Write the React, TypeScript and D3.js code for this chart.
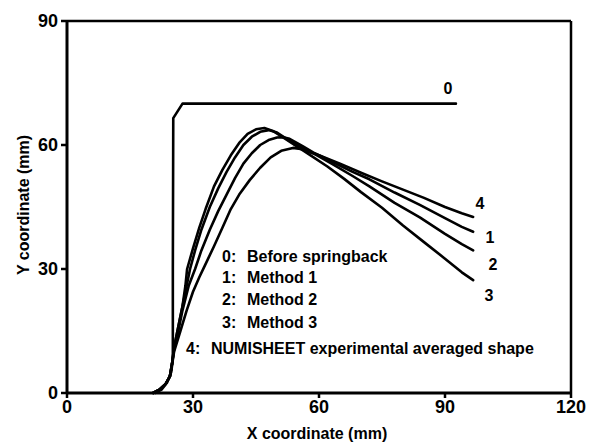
import React from 'react';
import * as d3 from 'd3';

// curve 0: shape before springback
const before: [number, number][] = [
  [21, 0], [22.5, 0.8], [23.8, 2.5], [24.8, 5], [25.2, 8], [25.2, 30], [25.3, 66.5], [27.5, 70], [92.6, 70],
];

const method1: [number, number][] = [
  [20.5, 0], [22, 0.8], [23.5, 2.2], [24.5, 4], [25, 7], [25.5, 10.5], [26.5, 15], [27.5, 20], [29, 26],
  [30.5, 30], [32, 34.5], [34, 39.5], [36, 44], [38, 48], [40, 52], [42, 55.5], [44, 58], [46, 60],
  [48, 61.2], [50, 61.8], [51.5, 61.9], [53, 61.5], [56, 59.8], [59, 58], [63, 56], [68, 53.5],
  [72, 51.7], [78, 48.5], [84, 45.5], [90, 42.3], [94, 40.2], [96.7, 39],
];

const method2: [number, number][] = [
  [20.5, 0], [22, 0.8], [23.5, 2.2], [24.5, 4], [25, 7], [25.5, 11], [26.5, 16], [27.5, 21], [28.5, 26],
  [29.3, 30], [30.5, 34.5], [32, 39.5], [34, 45], [36, 49.5], [38, 53.5], [40, 57], [42, 60], [44, 62],
  [46, 63.2], [48, 63.6], [50, 63], [53, 61], [56, 59.3], [59, 57.8], [63, 55.5], [68, 52.5], [72, 50],
  [78, 46], [84, 42.5], [90, 38.5], [94, 36], [96.7, 34.5],
];

const method3: [number, number][] = [
  [20.5, 0], [22, 0.8], [23.5, 2.2], [24.5, 4], [25, 7], [25.5, 11], [26.5, 16], [27.5, 21], [28.2, 26],
  [28.6, 30], [30, 35], [31.5, 40], [33, 44.5], [35, 50], [37, 54], [39, 57.5], [41, 60.5], [43, 62.7],
  [45, 63.8], [47, 64.1], [49, 63.4], [52, 61.5], [55, 59.5], [58, 57.5], [62, 54.8], [66, 51.8],
  [70, 48.6], [75, 44.8], [80, 40.5], [85, 36.5], [90, 32.5], [94, 29.2], [96.7, 27.3],
];

// curve 4: NUMISHEET experimental averaged shape
const experimental: [number, number][] = [
  [20.5, 0], [22, 0.8], [23.5, 2.2], [24.5, 4], [25, 7], [25.5, 10], [27, 15], [28.5, 20], [30, 24.5],
  [31.5, 28], [32.9, 31], [35, 35.5], [37, 40], [39, 44.5], [41, 48], [43.5, 51.5], [46, 54.5],
  [48.5, 57], [51, 58.6], [53.8, 59.3], [56, 59], [58, 58.2], [60, 57.5], [65, 55.5], [70, 53.3],
  [75, 51.2], [80, 49.2], [85, 47.2], [90, 45], [94, 43.5], [96.7, 42.6],
];

const series = [before, method1, method2, method3, experimental];
const endLabels = ['0', '1', '2', '3', '4'];

const legendNums = ['0:', '1:', '2:', '3:', '4:'];
const legendTexts = ['Before springback', 'Method 1', 'Method 2', 'Method 3', 'NUMISHEET experimental averaged shape'];

const xTicks = [0, 30, 60, 90, 120];
const yTicks = [0, 30, 60, 90];

const W = 596;
const H = 444;
const m = { left: 67, right: 25, top: 21, bottom: 51 };

export default function App() {
  const x = d3.scaleLinear().domain([0, 120]).range([m.left, W - m.right]);
  const y = d3.scaleLinear().domain([0, 90]).range([H - m.bottom, m.top]);
  const line = d3.line<[number, number]>().x(d => x(d[0])).y(d => y(d[1]));

  const font = 'Liberation Sans, Arial, Helvetica, sans-serif';
  const labelPos = [
    [448, 94], [490, 243], [493, 270], [489, 301], [480, 209],
  ];
  const legendY = [262, 283, 305, 328, 354];
  const legendX = [222, 222, 222, 222, 186];

  return (
    <svg width={W} height={H} style={{ position: 'absolute', left: 0, top: 0, background: '#fff' }}
      fontFamily={font} fontWeight="bold">
      {/* frame */}
      <line x1={x(0)} x2={x(120)} y1={y(90)} y2={y(90)} stroke="#000" strokeWidth={2.5} />
      <line x1={x(120)} x2={x(120)} y1={y(90)} y2={y(0)} stroke="#000" strokeWidth={2.5} />
      <line x1={x(0)} x2={x(120)} y1={y(0)} y2={y(0)} stroke="#000" strokeWidth={3} />
      <line x1={x(0)} x2={x(0)} y1={y(90)} y2={y(0)} stroke="#000" strokeWidth={3} />

      {xTicks.map(t => (
        <g key={'x' + t}>
          <line x1={x(t)} x2={x(t)} y1={y(0)} y2={y(0) + 5} stroke="#000" strokeWidth={2.5} />
          <text x={x(t)} y={y(0) + 20} fontSize={18} textAnchor="middle">{t}</text>
        </g>
      ))}
      {yTicks.map(t => (
        <g key={'y' + t}>
          <line x1={x(0) - 6} x2={x(0)} y1={y(t)} y2={y(t)} stroke="#000" strokeWidth={2.5} />
          <text x={x(0) - 9} y={y(t) + 6} fontSize={18} textAnchor="end">{t}</text>
        </g>
      ))}

      <text x={317} y={439} fontSize={16} textAnchor="middle">X coordinate (mm)</text>
      <text transform="translate(29,205) rotate(-90)" fontSize={16} textAnchor="middle">Y coordinate (mm)</text>

      {series.map((s, i) => (
        <path key={i} d={line(s) || ''} fill="none" stroke="#000" strokeWidth={2.6}
          strokeLinejoin="round" strokeLinecap="round" />
      ))}

      {endLabels.map((l, i) => (
        <text key={'l' + i} x={labelPos[i][0]} y={labelPos[i][1]} fontSize={16} textAnchor="middle">{l}</text>
      ))}

      {legendNums.map((n, i) => (
        <g key={'g' + i}>
          <text x={legendX[i]} y={legendY[i]} fontSize={16}>{n}</text>
          <text x={legendX[i] + 25} y={legendY[i]} fontSize={16}>{legendTexts[i]}</text>
        </g>
      ))}
    </svg>
  );
}
